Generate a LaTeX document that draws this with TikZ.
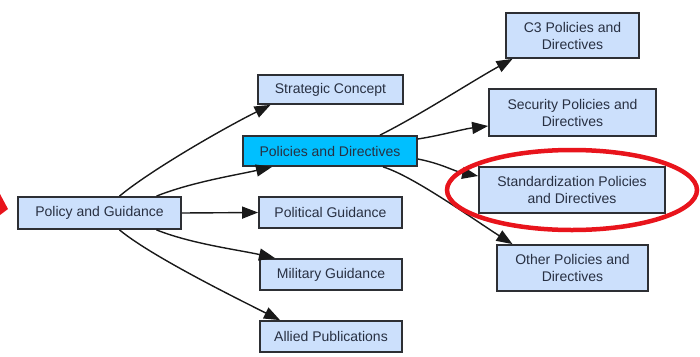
\documentclass[tikz,border=0pt]{standalone}
\usepackage{fontspec}
\setmainfont{Liberation Sans}
\usetikzlibrary{arrows.meta}
\definecolor{boxfill}{RGB}{204,224,252}
\definecolor{hotfill}{RGB}{0,191,255}
\definecolor{boxline}{RGB}{45,47,52}
\definecolor{labeltext}{RGB}{40,48,66}
\definecolor{linkline}{RGB}{25,25,25}
\definecolor{markred}{RGB}{232,20,28}
\begin{document}
\begin{tikzpicture}[x=1pt,y=-1pt,
  topic/.style={draw=boxline, line width=1.8pt, fill=boxfill, inner sep=0pt,
    align=center, text=labeltext, font=\fontsize{14}{17}\selectfont},
  hot/.style={topic, fill=hotfill},
  link/.style={draw=linkline, line width=1.4pt,
    -{Triangle[length=16pt,width=12pt]}}]
\useasboundingbox (0,0) rectangle (700,356);

% nodes
\node[topic, minimum width=163pt, minimum height=32pt] (pg)  at (99.5,213) {Policy and Guidance};
\node[topic, minimum width=145pt, minimum height=29pt] (sc)  at (330.5,89.5) {Strategic Concept};
\node[hot,   minimum width=174pt, minimum height=30pt] (pd)  at (330,151) {Policies and Directives};
\node[topic, minimum width=143pt, minimum height=31pt] (pol) at (330.5,212.5) {Political Guidance};
\node[topic, minimum width=142pt, minimum height=31pt] (mil) at (331,274.5) {Military Guidance};
\node[topic, minimum width=142pt, minimum height=31pt] (ap)  at (331,336.5) {Allied Publications};
\node[topic, minimum width=133pt, minimum height=45pt] (c3)  at (572.5,35.5) {C3 Policies and\\Directives};
\node[topic, minimum width=167pt, minimum height=47pt] (sec) at (572.5,112.5) {Security Policies and\\Directives};
\node[topic, minimum width=186pt, minimum height=46pt] (std) at (572,190) {Standardization Policies\\and Directives};
\node[topic, minimum width=151pt, minimum height=46pt] (oth) at (572.5,268) {Other Policies and\\Directives};

% connectors from Policy and Guidance
\draw[link] ([xshift=20pt]pg.north) .. controls +(30,-25) and +(-50,25) .. ([xshift=-60pt]sc.south);
\draw[link] ([xshift=57pt]pg.north) .. controls +(35,-14) and +(-35,8) .. ([xshift=-58pt]pd.south);
\draw[link] (pg.east) -- (pol.west);
\draw[link] ([xshift=57pt]pg.south) .. controls +(35,14) and +(-35,-8) .. ([xshift=-56pt]mil.north);
\draw[link] ([xshift=20pt]pg.south) .. controls +(30,25) and +(-50,-25) .. ([xshift=-51pt]ap.north);

% connectors from Policies and Directives
\draw[link] ([xshift=50pt]pd.north) .. controls +(40,-20) and +(-40,22) .. ([xshift=-60pt]c3.south);
\draw[link] ([yshift=12pt]pd.east) .. controls +(25,-4) and +(-25,3) .. ([yshift=-13.5pt]sec.west);
\draw[link] ([yshift=-8pt]pd.east) .. controls +(25,5) and +(-25,-5) .. ([yshift=14pt]std.west);
\draw[link] ([xshift=53pt]pd.south) .. controls +(30,9) and +(-38,-24) .. ([xshift=-60pt]oth.north);

% red highlight ring and pointer
\draw[markred, line width=4.5pt] (std.center) ellipse [x radius=125pt, y radius=40pt];
\fill[markred] (0,194) -- (8,209) -- (0,215) -- cycle;
\end{tikzpicture}
\end{document}
